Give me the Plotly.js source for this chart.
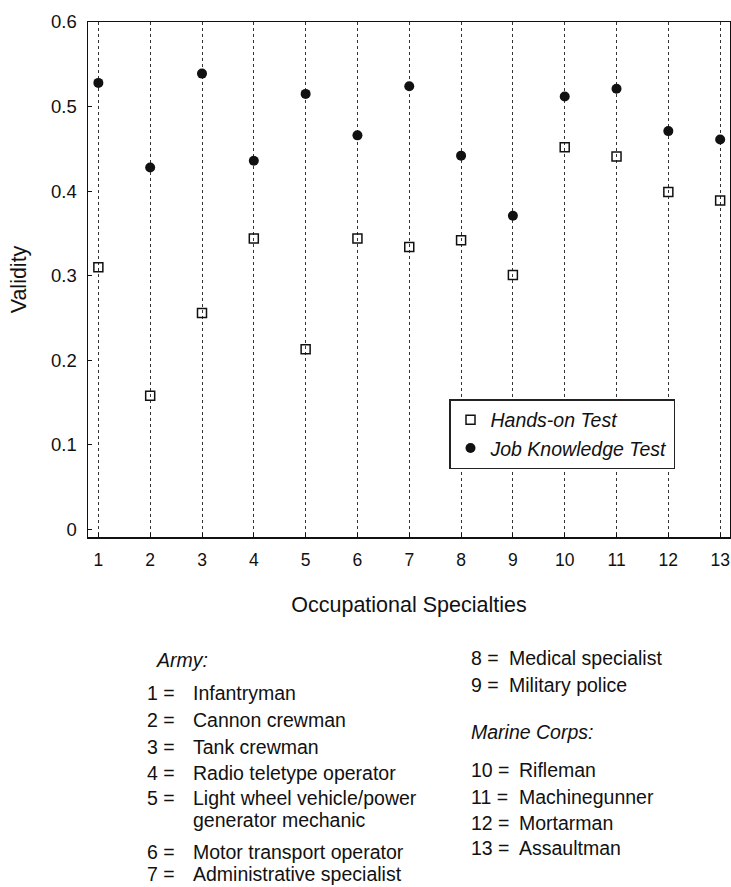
<!DOCTYPE html>
<html>
<head>
<meta charset="utf-8">
<script src="https://cdn.plot.ly/plotly-3.0.1.min.js"></script>
<style>
html,body{margin:0;padding:0;background:#fff;}
#chart{width:731px;height:887px;}
</style>
</head>
<body>
<div id="chart"></div>
<script>
// ---- data ----
var specialties = [1,2,3,4,5,6,7,8,9,10,11,12,13];
var handsOn      = [0.31,0.158,0.256,0.344,0.213,0.344,0.334,0.342,0.301,0.452,0.441,0.399,0.389];
var jobKnowledge = [0.528,0.428,0.539,0.436,0.515,0.466,0.524,0.442,0.371,0.512,0.521,0.471,0.461];
var yTicks = [0,0.1,0.2,0.3,0.4,0.5,0.6];
var yTickLabels = ['0','0.1','0.2','0.3','0.4','0.5','0.6'];
var seriesNames = ['Hands-on Test','Job Knowledge Test'];
var armyHeader = 'Army:';
var marineHeader = 'Marine Corps:';
var armyNums = ['1 =','2 =','3 =','4 =','5 =','6 =','7 ='];
var armyLabels = ['Infantryman','Cannon crewman','Tank crewman','Radio teletype operator',
                  'Light wheel vehicle/power','Motor transport operator','Administrative specialist'];
var armyWrap = 'generator mechanic';
var armyNums2 = ['8 =','9 ='];
var armyLabels2 = ['Medical specialist','Military police'];
var marineNums = ['10 =','11 =','12 =','13 ='];
var marineLabels = ['Rifleman','Machinegunner','Mortarman','Assaultman'];

// ---- layout helpers ----
var FONT = 'Liberation Sans, Arial, Helvetica, sans-serif';
var W = 731, H = 887, ML = 88, MR = 1, MT = 22, MB = 350;
var PW = W - ML - MR, PH = H - MT - MB;
function px(x){ return (x - ML) / PW; }
function py(y){ return (H - MB - y) / PH; }

var annotations = [];
function addText(text, x, y, opts){
  var a = {text: text, x: px(x), y: py(y), xref: 'paper', yref: 'paper',
           xanchor: 'left', yanchor: 'middle', showarrow: false,
           font: {family: FONT, size: 19.5, color: '#111'}};
  if (opts && opts.italic) a.font.style = 'italic';
  annotations.push(a);
}

// column 1
addText(armyHeader, 154, 660, {italic: true});
var armyY = [693, 720, 747, 773, 798, 852, 874];
for (var i = 0; i < armyNums.length; i++){
  addText(armyNums[i], 145, armyY[i]);
  addText(armyLabels[i], 191, armyY[i]);
}
addText(armyWrap, 191, 820);
// column 2
var a2Y = [658, 685];
for (var j = 0; j < armyNums2.length; j++){
  addText(armyNums2[j], 469, a2Y[j]);
  addText(armyLabels2[j], 507, a2Y[j]);
}
addText(marineHeader, 469, 732, {italic: true});
var mY = [770, 797, 823, 848];
for (var k = 0; k < marineNums.length; k++){
  addText(marineNums[k], 469, mY[k]);
  addText(marineLabels[k], 517, mY[k]);
}

var traces = [
  {x: specialties, y: handsOn, name: seriesNames[0], type: 'scatter', mode: 'markers',
   marker: {symbol: 'square-open', size: 9, color: '#111', line: {width: 1.5, color: '#111'}}},
  {x: specialties, y: jobKnowledge, name: seriesNames[1], type: 'scatter', mode: 'markers',
   marker: {symbol: 'circle', size: 10, color: '#111'}}
];

var layout = {
  width: W, height: H,
  margin: {l: ML, r: MR, t: MT, b: MB, pad: 0},
  paper_bgcolor: '#fff', plot_bgcolor: '#fff',
  font: {family: FONT, size: 18, color: '#111'},
  showlegend: true,
  legend: {x: px(449), y: py(399), xanchor: 'left', yanchor: 'top',
           bgcolor: '#fff', bordercolor: '#222', borderwidth: 1.5,
           font: {family: FONT, size: 19.5, style: 'italic', color: '#111'},
           tracegroupgap: 4, itemwidth: 30},
  xaxis: {range: [0.8, 13.19], tickvals: specialties, ticktext: specialties.map(String),
          showgrid: true, gridcolor: '#333', griddash: '3px,3px', gridwidth: 1,
          zeroline: false, showline: true, mirror: true, linecolor: '#111', linewidth: 1.5,
          ticks: 'inside', ticklen: 4, tickcolor: '#111',
          ticklabelstandoff: 6,
          tickfont: {family: FONT, size: 17.5, color: '#111'},
          title: {text: 'Occupational Specialties', standoff: 28,
                  font: {family: FONT, size: 21.5, color: '#111'}},
          automargin: false, fixedrange: true},
  yaxis: {range: [-0.0089, 0.6], tickvals: yTicks, ticktext: yTickLabels,
          showgrid: false, zeroline: false, showline: true, mirror: true,
          linecolor: '#111', linewidth: 1.5,
          ticks: 'inside', ticklen: 4, tickcolor: '#111',
          ticklabelstandoff: 6,
          tickfont: {family: FONT, size: 18.5, color: '#111'},
          title: {text: 'Validity', standoff: 18,
                  font: {family: FONT, size: 21.5, color: '#111'}},
          automargin: false, fixedrange: true},
  annotations: annotations
};

Plotly.newPlot('chart', traces, layout, {staticPlot: true, displayModeBar: false});
</script>
</body>
</html>
